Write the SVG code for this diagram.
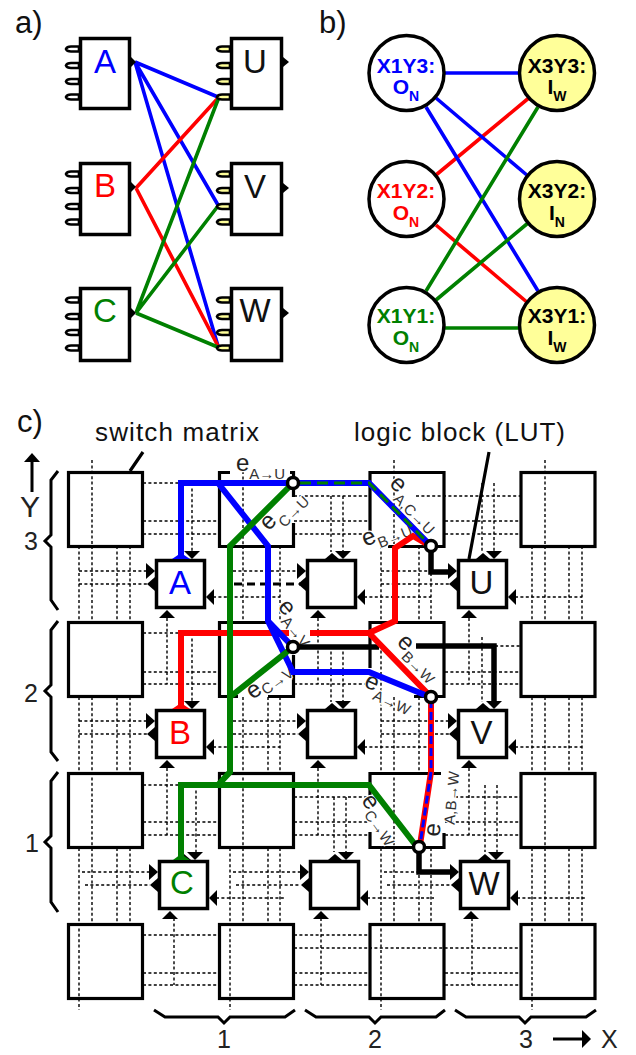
<svg xmlns="http://www.w3.org/2000/svg" width="636" height="1055" viewBox="0 0 636 1055">
<style>
text{font-family:"Liberation Sans",Arial,sans-serif}
.t{font-size:31px;fill:#111}
.n{font-size:25px;fill:#222}
.y{font-size:30px;fill:#222}
.big{font-size:33px;text-anchor:middle}
.mid{font-size:33px;text-anchor:middle;fill:#111}
.cap{font-size:26px;fill:#111}
.box{fill:#fff;stroke:#000;stroke-width:3.5}
.edge{fill:none;stroke:#000;stroke-width:3.2}
.d{fill:none;stroke:#000;stroke-width:1.4;stroke-dasharray:3 2.4}
.brace{fill:none;stroke:#000;stroke-width:3}
.w{fill:none;stroke-width:3.6}
.c{fill:#fff;stroke:#000;stroke-width:3.5}
.cy{fill:#ffff99;stroke:#000;stroke-width:3.5}
.ct{font-size:21px;font-weight:bold;text-anchor:middle}
.lb{font-size:24px;fill:#222;stroke:#fff;stroke-width:2.5;paint-order:stroke}
.s{font-size:15px;fill:#333}
.r{fill:none;stroke-width:6;stroke-linejoin:miter}
.node{fill:#fff;stroke:#000;stroke-width:3.5}
.blk{fill:none;stroke:#000;stroke-width:5.500}
</style>
<defs>
<path id="ip" stroke="#000" stroke-width="2.600" d="M12,-2.500H4Q0,-2.500-1,0Q0,2.500 4,2.500H12Z"/>
<g id="ins"><use href="#ip" y="12"/><use href="#ip" y="28.5"/><use href="#ip" y="44.5"/><use href="#ip" y="60"/></g>
<g id="lb">
<polygon points="29,-8 45,-8 37,0"/><polygon points="19,0 33,0 26,-6"/><polygon points="4,59 20,59 12,51"/>
<polygon points="-9,4 -9,20 0,12"/><polygon points="0,18 0,32 -8,25"/><polygon points="51,38 59,30 59,46"/>
<rect class="box" x="1.5" y="1.5" width="48" height="47"/>
</g>
</defs>

<text class="t" x="15" y="33">a)</text>
<text class="t" x="319" y="33">b)</text>
<text class="t" x="17" y="432">c)</text>

<g id="a-connectors" class="w">
<path stroke="#00f" fill="none" d="M135,62L218,97M135,62L218,205M135,62L218,346"/>
<path stroke="#f00" fill="none" d="M136,188L219,97M136,188L218,346"/>
<path stroke="#008000" fill="none" d="M136,313L219,97M136,313L218,206M136,313L220,348"/>
</g>
<g id="a-A"><use href="#ins" x="67" y="37" fill="#fff"/><rect class="box" x="80.5" y="38.5" width="49" height="70"/><polygon points="131,57 136,62 131,67"/><text class="big" x="105" y="73" fill="#00f">A</text></g>
<g id="a-B"><use href="#ins" x="67" y="162" fill="#fff"/><rect class="box" x="80.5" y="163.5" width="49" height="71"/><polygon points="131,182 136,187 131,192"/><text class="big" x="105" y="197" fill="#f00">B</text></g>
<g id="a-C"><use href="#ins" x="67" y="288" fill="#fff"/><rect class="box" x="80.5" y="288.5" width="49" height="72"/><polygon points="131,308 136,313 131,318"/><text class="big" x="105" y="322" fill="#008000">C</text></g>
<g id="a-U"><use href="#ins" x="218" y="37" fill="#ffff99"/><rect class="box" x="231.5" y="38.5" width="50" height="70"/><polygon points="283,57 289,62 283,67"/><text class="mid" x="255" y="73">U</text></g>
<g id="a-V"><use href="#ins" x="218" y="162" fill="#ffff99"/><rect class="box" x="231.5" y="163.5" width="50" height="71"/><polygon points="283,183 289,188 283,193"/><text class="mid" x="255" y="198">V</text></g>
<g id="a-W"><use href="#ins" x="218" y="288" fill="#ffff99"/><rect class="box" x="231.5" y="288.5" width="50" height="72"/><polygon points="283,308 289,313 283,318"/><text class="mid" x="255" y="322">W</text></g>

<g id="b-connectors" class="w">
<path stroke="#f00" fill="none" d="M436,175L530,97M436,225L528,303"/>
<path stroke="#00f" fill="none" d="M440,73H520M436,98L528,176M426,107L538,291"/>
<path stroke="#008000" fill="none" d="M426,291L538,107M436,300L528,223M440,328H520"/>
</g>
<g id="b-x1y3"><circle class="c" cx="406.5" cy="73" r="37.5"/><text class="ct" x="406" y="73" fill="#00f">X1Y3:</text><text class="ct" x="406" y="94" fill="#00f">O<tspan font-size="14" dy="7">N</tspan></text></g>
<g id="b-x1y2"><circle class="c" cx="406.5" cy="199" r="37.5"/><text class="ct" x="406" y="198" fill="#f00">X1Y2:</text><text class="ct" x="406" y="220" fill="#f00">O<tspan font-size="14" dy="7">N</tspan></text></g>
<g id="b-x1y1"><circle class="c" cx="406.5" cy="325" r="37.5"/><text class="ct" x="406" y="323" fill="#008000">X1Y1:</text><text class="ct" x="406" y="345" fill="#008000">O<tspan font-size="14" dy="7">N</tspan></text></g>
<g id="b-x3y3"><circle class="cy" cx="557" cy="73" r="37.5"/><text class="ct" x="557" y="73">X3Y3:</text><text class="ct" x="557" y="94">I<tspan font-size="14" dy="7">W</tspan></text></g>
<g id="b-x3y2"><circle class="cy" cx="557" cy="199" r="37.5"/><text class="ct" x="557" y="198">X3Y2:</text><text class="ct" x="557" y="220">I<tspan font-size="14" dy="7">N</tspan></text></g>
<g id="b-x3y1"><circle class="cy" cx="557" cy="325" r="37.5"/><text class="ct" x="557" y="323">X3Y1:</text><text class="ct" x="557" y="345">I<tspan font-size="14" dy="7">W</tspan></text></g>

<g id="tracks">
<path class="d" d="M79,546V621M92,546V621M117,546V621M130,546V621M79,697V772M92,697V772M117,697V772M130,697V772M79,848V923M92,848V923M117,848V923M130,848V923M92,460V546M92,772V848M79,923V1010
M230,546V621M243,546V621M268,546V621M280,546V621M230,697V772M243,697V772M268,697V772M280,697V772M230,848V923M243,848V923M268,848V923M280,848V923M243,471V546M243,772V848M230,923V1010
M381,546V621M394,546V621M419,546V621M431,546V621M381,697V772M394,697V772M419,697V772M431,697V772M381,848V923M394,848V923M419,848V923M431,848V923M394,460V546M394,772V848M381,923V1010M381,645V697
M532,546V621M545,546V621M569,546V621M582,546V621M532,697V772M545,697V772M569,697V772M582,697V772M532,848V923M545,848V923M569,848V923M582,848V923M545,460V546M545,772V848M532,923V1010"/>
<path class="d" d="M143,483H180M143,521H218M143,534H218M143,633H180M143,672H218M143,684H218M143,785H180M143,822H218M143,835H218M143,935H218M143,973H218M143,985H218
M294,496H369M294,521H369M294,534H369M294,684H369M294,797H369M294,822H369M294,835H369M294,935H369M294,948H369M294,973H369M294,985H369
M416,496H520M445,521H520M445,534H520M495,646H520M445,672H520M445,684H520M455,797H520M445,822H520M445,835H520M369,948H520M445,973H520M445,985H520"/>
<path class="d" d="M79,571H148M79,584H148M213,597H280M233,571H298M364,597H431M381,571H450M381,584H450M515,597H582
M192,483V552M331,496V552M343,496V552M482,483V552M494,483V552M167,618V684M318,618V684M469,618V684
M79,721H148M79,734H148M213,747H280M233,721H298M233,734H298M364,747H431M381,721H450M381,734H450M515,747H582
M192,633V702M331,646V702M343,646V702M482,637V702M167,768V835M318,768V835M469,768V835
M82,872H150M85,885H150M216,898H284M233,872H300M236,885H300M367,898H434M384,872H452M387,885H452M517,898H585
M196,785V852M334,797V852M346,797V852M485,785V852M497,785V852M174,918V985M321,918V985M472,918V985"/>
<path fill="none" stroke="#000" stroke-width="3" stroke-dasharray="8 5" d="M234,584H300"/>
</g>

<g id="sm-1-3"><rect class="edge" x="68.5" y="472.5" width="74" height="74"/></g>
<g id="sm-2-3"><path class="edge" d="M230,472.5H219.5V546.5H293.5V523M293.5,497V472.5H290"/></g>
<g id="sm-3-3"><path class="edge" d="M370,531V472.5H444V546.5H388"/></g>
<g id="sm-4-3"><rect class="edge" x="521" y="472.5" width="74" height="74"/></g>
<g id="sm-1-2"><rect class="edge" x="68.5" y="622.5" width="74" height="74"/></g>
<g id="sm-2-2"><path class="edge" d="M268,622.5H219.5V696.5H238M268,696.5H293.5V655"/></g>
<g id="sm-3-2"><path class="edge" d="M370,668V622.5H444V696.5H414"/></g>
<g id="sm-4-2"><rect class="edge" x="521" y="622.5" width="74" height="74"/></g>
<g id="sm-1-1"><rect class="edge" x="68.5" y="773.5" width="74" height="74"/></g>
<g id="sm-2-1"><rect class="edge" x="219.5" y="773.5" width="74" height="74"/></g>
<g id="sm-3-1"><path class="edge" d="M370,800V773.5H441M444,833V847.5H370V832"/></g>
<g id="sm-4-1"><rect class="edge" x="521" y="773.5" width="74" height="74"/></g>
<g id="sm-1-0"><rect class="edge" x="68.5" y="924.5" width="74" height="74"/></g>
<g id="sm-2-0"><rect class="edge" x="219.5" y="924.5" width="74" height="74"/></g>
<g id="sm-3-0"><rect class="edge" x="370" y="924.5" width="74" height="74"/></g>
<g id="sm-4-0"><rect class="edge" x="521" y="924.5" width="74" height="74"/></g>

<g id="lut-A" transform="translate(155,559)"><use href="#lb"/><text class="big" x="25" y="35" fill="#00f">A</text></g>
<g id="lut-m3" transform="translate(306,559)"><use href="#lb"/></g>
<g id="lut-U" transform="translate(457,559)"><use href="#lb"/><text class="mid" x="24.500" y="35">U</text></g>
<g id="lut-B" transform="translate(155,709)"><use href="#lb"/><text class="big" x="25" y="35" fill="#f00">B</text></g>
<g id="lut-m2" transform="translate(306,709)"><use href="#lb"/></g>
<g id="lut-V" transform="translate(457,709)"><use href="#lb"/><text class="mid" x="24.500" y="35">V</text></g>
<g id="lut-C" transform="translate(158,860)"><use href="#lb"/><text class="big" x="24" y="34" fill="#008000">C</text></g>
<g id="lut-m1" transform="translate(309,860)"><use href="#lb"/></g>
<g id="lut-W" transform="translate(459,860)"><use href="#lb"/><text class="mid" x="25" y="35">W</text></g>

<g id="labels-c">
<text class="cap" x="95" y="441" textLength="164" lengthAdjust="spacing">switch matrix</text>
<text class="cap" x="354" y="441" textLength="211" lengthAdjust="spacing">logic block (LUT)</text>
<text class="n" x="24" y="550">3</text><text class="n" x="24" y="702">2</text><text class="n" x="25" y="852">1</text>
<text class="n" x="217" y="1048">1</text><text class="n" x="368" y="1048">2</text><text class="n" x="519" y="1048">3</text>
<text class="n" x="601" y="1048">X</text><text class="y" x="20" y="517">Y</text>
<path class="edge" d="M130,471L143,452M469,559L489,452"/>
<path fill="none" stroke="#000" stroke-width="3" d="M32,492V462M553,1039H582"/>
<polygon points="32,453 24,462 40,462"/><polygon points="591,1039 582,1030 582,1048"/>
<path class="brace" d="M58,471L51,480V535L45,541L51,547V600L58,610M58,621L51,630V685L45,691L51,697V752L58,761M58,772L51,781V836L45,842L51,848V902L58,912"/>
<path class="brace" d="M154,1010L165,1017H218L224,1023L230,1017H285L295,1010M305,1010L316,1017H369L375,1023L381,1017H436L445,1010M455,1010L466,1017H519L525,1023L531,1017H586L596,1010"/>
<text class="lb" x="236" y="471">e<tspan class="s" dy="8">A→U</tspan></text>
<text class="lb" transform="translate(268.600,531.400) rotate(-45)">e<tspan class="s" dy="9">C→U</tspan></text>
<text class="lb" transform="translate(388.600,484.600) rotate(45)">e<tspan class="s" dy="8">A,C→U</tspan></text>
<text class="lb" transform="translate(365.300,546.700) rotate(-22)">e<tspan class="s" dy="7">B→U</tspan></text>
<text class="lb" transform="translate(277,607) rotate(50)">e<tspan class="s" dy="7">A→V</tspan></text>
<text class="lb" transform="translate(252.400,700) rotate(-35)">e<tspan class="s" dy="4">C→V</tspan></text>
<text class="lb" transform="translate(396,643) rotate(45)">e<tspan class="s" dy="7">B→W</tspan></text>
<text class="lb" transform="translate(363,686) rotate(25)">e<tspan class="s" dy="8">A→W</tspan></text>
<text class="lb" transform="translate(439.500,837) rotate(-85)">e<tspan class="s" dy="14">A,B→W</tspan></text>
<text class="lb" transform="translate(360.800,800.400) rotate(55)">e<tspan class="s" dy="6">C→W</tspan></text>
</g>

<g id="connectors">
<path class="blk" d="M293,647H379M416,646H494V702"/>
<path class="blk" d="M431,546V572H450"/>
<path class="blk" d="M419,847V872H452"/>
<path class="r" stroke="#f00" d="M181,709V633H289M310,633H369L395,621V548L413,536L430,546M369,633L431,697V772L420,845"/>
<polygon fill="#f00" points="172,709 190,709 181,703"/>
<path class="r" stroke="#00f" d="M181,559V483H293H369L431,546M218,483L268,546V621L293,672H369L430,697M268,621L293,647"/>
<polygon fill="#00f" points="172,559 190,559 181,553"/>
<path class="r" stroke="#008000" d="M293,483L230,546V772L218,785M230,697L293,647M181,860V785H369L417,847"/>
<polygon fill="#008000" points="173,860 190,860 181,854"/>
<path fill="none" stroke="#008000" stroke-width="3" stroke-dasharray="11 6" d="M300,483H369L431,546"/>
<path fill="none" stroke="#00f" stroke-width="3" stroke-dasharray="8 4" d="M431,700V772L420,845"/>
<circle class="node" cx="293" cy="483" r="5.500"/>
<circle class="node" cx="431" cy="546" r="5.500"/>
<circle class="node" cx="293" cy="647" r="5.500"/>
<circle class="node" cx="431" cy="697" r="5.500"/>
<circle class="node" cx="419" cy="847" r="5.500"/>
</g>
</svg>
